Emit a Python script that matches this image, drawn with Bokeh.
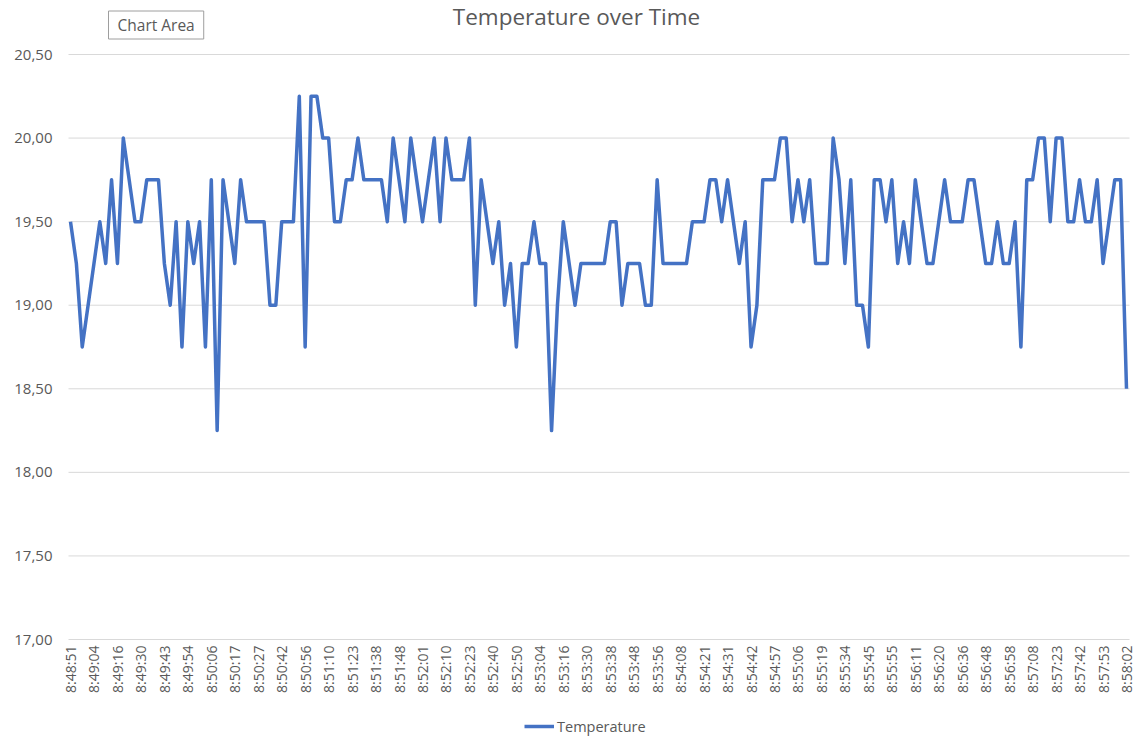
import math
from bokeh.plotting import figure
from bokeh.models import (Range1d, FixedTicker, CustomJSTickFormatter, Legend,
                          LegendItem, Label, ColumnDataSource)
from bokeh.embed import file_html
from bokeh.resources import INLINE

# ---------------- data ----------------
temperature = [
    19.5, 19.25, 18.75, 19.0, 19.25, 19.5, 19.25, 19.75, 19.25, 20.0,
    19.75, 19.5, 19.5, 19.75, 19.75, 19.75, 19.25, 19.0, 19.5, 18.75,
    19.5, 19.25, 19.5, 18.75, 19.75, 18.25, 19.75, 19.5, 19.25, 19.75,
    19.5, 19.5, 19.5, 19.5, 19.0, 19.0, 19.5, 19.5, 19.5, 20.25,
    18.75, 20.25, 20.25, 20.0, 20.0, 19.5, 19.5, 19.75, 19.75, 20.0,
    19.75, 19.75, 19.75, 19.75, 19.5, 20.0, 19.75, 19.5, 20.0, 19.75,
    19.5, 19.75, 20.0, 19.5, 20.0, 19.75, 19.75, 19.75, 20.0, 19.0,
    19.75, 19.5, 19.25, 19.5, 19.0, 19.25, 18.75, 19.25, 19.25, 19.5,
    19.25, 19.25, 18.25, 19.0, 19.5, 19.25, 19.0, 19.25, 19.25, 19.25,
    19.25, 19.25, 19.5, 19.5, 19.0, 19.25, 19.25, 19.25, 19.0, 19.0,
    19.75, 19.25, 19.25, 19.25, 19.25, 19.25, 19.5, 19.5, 19.5, 19.75,
    19.75, 19.5, 19.75, 19.5, 19.25, 19.5, 18.75, 19.0, 19.75, 19.75,
    19.75, 20.0, 20.0, 19.5, 19.75, 19.5, 19.75, 19.25, 19.25, 19.25,
    20.0, 19.75, 19.25, 19.75, 19.0, 19.0, 18.75, 19.75, 19.75, 19.5,
    19.75, 19.25, 19.5, 19.25, 19.75, 19.5, 19.25, 19.25, 19.5, 19.75,
    19.5, 19.5, 19.5, 19.75, 19.75, 19.5, 19.25, 19.25, 19.5, 19.25,
    19.25, 19.5, 18.75, 19.75, 19.75, 20.0, 20.0, 19.5, 20.0, 20.0,
    19.5, 19.5, 19.75, 19.5, 19.5, 19.75, 19.25, 19.5, 19.75, 19.75,
    18.5,
]

# time labels shown on the category axis (every 4th reading)
time_labels = [
    "8:48:51", "8:49:04", "8:49:16", "8:49:30", "8:49:43", "8:49:54",
    "8:50:06", "8:50:17", "8:50:27", "8:50:42", "8:50:56", "8:51:10",
    "8:51:23", "8:51:38", "8:51:48", "8:52:01", "8:52:10", "8:52:23",
    "8:52:40", "8:52:50", "8:53:04", "8:53:16", "8:53:30", "8:53:38",
    "8:53:48", "8:53:56", "8:54:08", "8:54:21", "8:54:31", "8:54:42",
    "8:54:57", "8:55:06", "8:55:19", "8:55:34", "8:55:45", "8:55:55",
    "8:56:11", "8:56:20", "8:56:36", "8:56:48", "8:56:58", "8:57:08",
    "8:57:23", "8:57:42", "8:57:53", "8:58:02",
]
label_step = 4
y_ticks = [17.0, 17.5, 18.0, 18.5, 19.0, 19.5, 20.0, 20.5]

series_name = "Temperature"
title_text = "Temperature over Time"

# ---------------- layout constants (pixels) ----------------
FONT = "Open Sans"
GREY = "#595959"
GRID = "#D9D9D9"

W, H = 1138, 736
FRAME_L = 56                 # frame left edge (room for edge tick labels)
PLOT_L, PLOT_R = 68, 1129    # visible plot area (gridline extent)
FIRST_PX, LAST_PX = 70, 1126 # centre of first / last reading
TOP_PX, AXIS_PX = 54, 585    # gridline 20,50 at y=54, 17,00 at y=639
BOTTOM_PX = H - TOP_PX - AXIS_PX

n = len(temperature)
px_per_idx = (LAST_PX - FIRST_PX) / (n - 1)
x_lo = -(FIRST_PX - FRAME_L) / px_per_idx
x_hi = (n - 1) + (W - LAST_PX) / px_per_idx
grid_x0 = -(FIRST_PX - PLOT_L) / px_per_idx
grid_x1 = (n - 1) + (PLOT_R - LAST_PX) / px_per_idx

span = y_ticks[-1] - y_ticks[0]
y_hi = y_ticks[-1] + span * TOP_PX / AXIS_PX
y_lo = y_ticks[0] - span * BOTTOM_PX / AXIS_PX

idx = list(range(n))
src = ColumnDataSource(dict(idx=idx, temp=temperature))

p = figure(width=W, height=H, frame_width=W - FRAME_L, frame_height=H,
           output_backend="svg", toolbar_location=None,
           x_range=Range1d(x_lo, x_hi), y_range=Range1d(y_lo, y_hi),
           min_border_left=FRAME_L, min_border_right=0,
           min_border_top=0, min_border_bottom=0)
p.outline_line_color = None
p.background_fill_color = "white"

# horizontal gridlines limited to the plot area
p.xgrid.visible = False
p.ygrid.visible = False
gsrc = ColumnDataSource(dict(y=y_ticks, x0=[grid_x0] * len(y_ticks),
                             x1=[grid_x1] * len(y_ticks)))
p.segment(x0="x0", y0="y", x1="x1", y1="y", source=gsrc,
          line_color=GRID, line_width=1)

# y axis
p.yaxis.ticker = FixedTicker(ticks=y_ticks)
p.yaxis.formatter = CustomJSTickFormatter(code="return tick.toFixed(2).replace('.', ',');")
p.yaxis.axis_line_color = None
p.yaxis.major_tick_line_color = None
p.yaxis.minor_tick_line_color = None
p.yaxis.major_tick_out = 0
p.yaxis.major_label_standoff = 4
p.yaxis.major_label_text_font = FONT
p.yaxis.major_label_text_font_size = "15px"
p.yaxis.major_label_text_color = GREY

# x axis, drawn along the 17,00 line
p.xaxis.fixed_location = y_ticks[0]
p.xaxis.ticker = FixedTicker(ticks=[i * label_step for i in range(len(time_labels))])
p.xaxis.formatter = CustomJSTickFormatter(
    args=dict(labels=time_labels, step=label_step),
    code="const i = Math.round(tick / step); return (i >= 0 && i < labels.length) ? labels[i] : '';")
p.xaxis.axis_line_color = None
p.xaxis.major_tick_line_color = None
p.xaxis.minor_tick_line_color = None
p.xaxis.major_tick_out = 0
p.xaxis.major_label_standoff = 6
p.xaxis.major_label_orientation = math.pi / 2
p.xaxis.major_label_text_font = FONT
p.xaxis.major_label_text_font_size = "14px"
p.xaxis.major_label_text_color = GREY

r = p.line("idx", "temp", source=src, line_color="#4472C4", line_width=3.5,
           line_join="round")

legend = Legend(items=[LegendItem(label=series_name, renderers=[r])],
                orientation="horizontal", location=(524 - FRAME_L, 0),
                border_line_color=None, background_fill_alpha=0,
                label_text_font=FONT, label_text_font_size="14.5px",
                label_text_color=GREY, glyph_width=30, label_standoff=3,
                padding=0, margin=0)
p.add_layout(legend, "center")

# chart title
title = Label(x=576 - FRAME_L, y=H - 16, x_units="screen", y_units="screen",
              text=title_text, text_font=FONT, text_font_size="22.5px",
              text_color=GREY, text_align="center", text_baseline="middle")
p.add_layout(title)

# "Chart Area" hover tip box
tip_x = 108 - FRAME_L
shadow = Label(x=tip_x + 2, y=H - 26.5, x_units="screen", y_units="screen", text="Chart Area",
               text_font=FONT, text_font_size="15.5px", text_alpha=0,
               text_baseline="middle", background_fill_color="#BFBFBF",
               background_fill_alpha=0.6, padding=(9, 3))
tip = Label(x=tip_x, y=H - 24.5, x_units="screen", y_units="screen", text="Chart Area",
            text_font=FONT, text_font_size="15.5px", text_color=GREY,
            text_baseline="middle", background_fill_color="white",
            border_line_color="#9E9E9E", padding=(9, 3))
p.add_layout(shadow)
p.add_layout(tip)

open("out.html", "w").write(file_html(p, INLINE))
